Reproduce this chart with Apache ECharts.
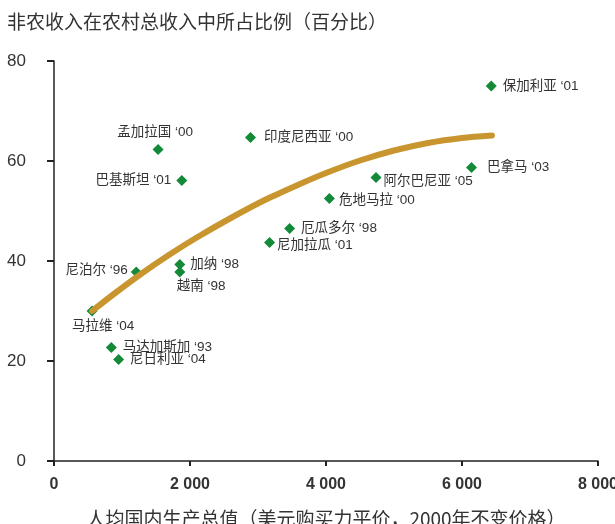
<!DOCTYPE html>
<html>
<head>
<meta charset="utf-8">
<script src="https://cdn.jsdelivr.net/npm/echarts@6/dist/echarts.min.js"></script>
<style>
html,body{margin:0;padding:0;background:#fff;}
#chart{width:615px;height:524px;}
</style>
</head>
<body>
<div id="chart"></div>
<script>
const countries = ['孟加拉国','印度尼西亚','巴基斯坦','保加利亚','巴拿马','阿尔巴尼亚','危地马拉','厄瓜多尔','尼加拉瓜','尼泊尔','加纳','越南','马拉维','马达加斯加','尼日利亚'];
const years = ['00','00','01','01','03','05','00','98','01','96','98','98','04','93','04'];
const gdp = [1530,2890,1880,6430,6140,4735,4050,3465,3170,1210,1850,1850,560,843,950];
const share = [62.3,64.7,56.1,75.0,58.7,56.7,52.5,46.5,43.7,37.8,39.3,37.8,30.0,22.7,20.3];
const trendX = [560,900,1300,1700,2100,2600,3100,3600,4000,4500,5000,5500,6000,6440];
const trendY = [30.0,33.6,37.6,41.3,44.7,48.6,52.2,55.3,57.6,60.1,62.1,63.6,64.6,65.1];
const xTicks = [0,2000,4000,6000,8000];
const yTicks = [0,20,40,60,80];

const labelLayout = {
  '孟加拉国': {position:'top', distance:5, offset:[-3,0]},
  '印度尼西亚': {position:'right', distance:8},
  '巴基斯坦': {position:'left', distance:5},
  '保加利亚': {position:'right', distance:6},
  '巴拿马': {position:'right', distance:10},
  '阿尔巴尼亚': {position:'right', distance:2, offset:[0,4]},
  '危地马拉': {position:'right', distance:4, offset:[0,2]},
  '厄瓜多尔': {position:'right', distance:6},
  '尼加拉瓜': {position:'right', distance:2, offset:[0,3]},
  '尼泊尔': {position:'left', distance:3, offset:[0,-2]},
  '加纳': {position:'right', distance:5},
  '越南': {position:'bottom', distance:2, align:'left', offset:[-3,0]},
  '马拉维': {position:'bottom', distance:3, offset:[11,0]},
  '马达加斯加': {position:'right', distance:6},
  '尼日利亚': {position:'right', distance:6}
};

const FONT = '"Liberation Sans","Noto Sans CJK SC",sans-serif';
const CJK = '"Noto Sans CJK SC",sans-serif';

const scatterData = countries.map((c, i) => ({
  value: [gdp[i], share[i]],
  label: Object.assign({show: true, formatter: c + ' \u2018' + years[i]}, labelLayout[c])
}));

const trendData = trendX.map((x, i) => [x, trendY[i]]);

const chart = echarts.init(document.getElementById('chart'), null, {renderer: 'canvas'});
chart.setOption({
  animation: false,
  backgroundColor: '#fff',
  textStyle: {fontFamily: FONT},
  title: {
    text: '非农收入在农村总收入中所占比例（百分比）',
    left: 7, top: 12, padding: 0,
    textStyle: {fontFamily: CJK, fontSize: 19, fontWeight: 'normal', color: '#333'}
  },
  grid: {left: 54, right: 17, top: 61, bottom: 63, containLabel: false, outerBoundsMode: 'none'},
  xAxis: {
    type: 'value', min: xTicks[0], max: xTicks[xTicks.length-1], interval: 2000,
    name: '人均国内生产总值（美元购买力平价，2000年不变价格）',
    nameLocation: 'middle', nameGap: 48,
    nameTextStyle: {fontFamily: CJK, fontSize: 19, color: '#333'},
    axisLine: {show: true, lineStyle: {color: '#222', width: 1.5}},
    axisTick: {show: true, length: 5, inside: false, lineStyle: {color: '#222', width: 2}},
    axisLabel: {
      margin: 16, fontSize: 16, fontWeight: 'bold', color: '#333',
      formatter: v => String(v).replace(/\B(?=(\d{3})+(?!\d))/g, ' ')
    },
    splitLine: {show: false}
  },
  yAxis: {
    type: 'value', min: yTicks[0], max: yTicks[yTicks.length-1], interval: 20,
    axisLine: {show: true, lineStyle: {color: '#222', width: 1.5}},
    axisTick: {show: true, length: 7, inside: false, lineStyle: {color: '#222', width: 2}},
    axisLabel: {margin: 28, fontSize: 17, color: '#333'},
    splitLine: {show: false}
  },
  series: [
    {
      type: 'scatter',
      symbol: 'diamond',
      symbolSize: 11,
      itemStyle: {color: '#128a38', opacity: 1},
      label: {fontSize: 13.5, color: '#333', fontFamily: FONT},
      data: scatterData,
      z: 2
    },
    {
      type: 'line',
      smooth: 0.3,
      symbol: 'none',
      lineStyle: {color: '#c8952e', width: 6, cap: 'round', join: 'round'},
      data: trendData,
      z: 3
    }
  ]
});
</script>
</body>
</html>
